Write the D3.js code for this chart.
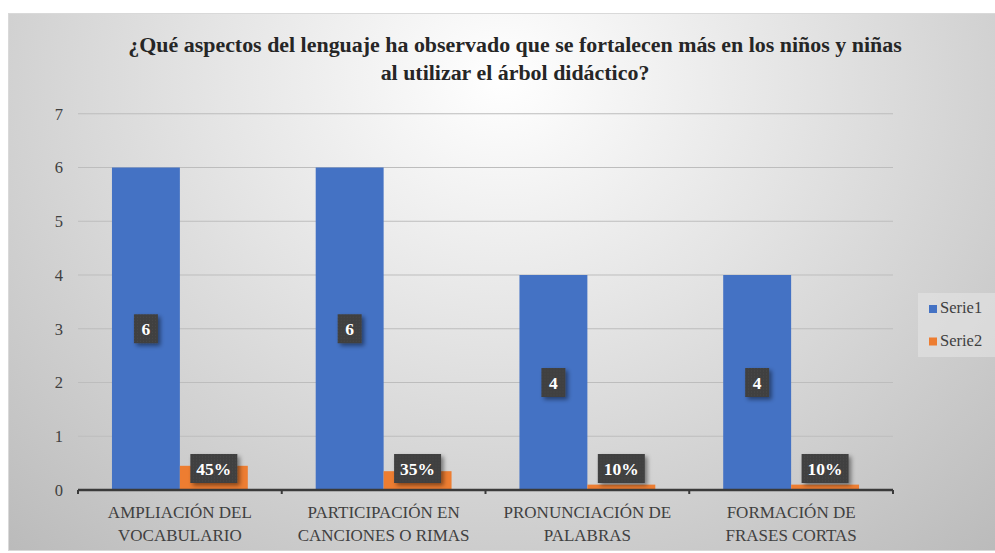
<!DOCTYPE html>
<html>
<head>
<meta charset="utf-8">
<script src="https://cdn.jsdelivr.net/npm/d3@7"></script>
<style>
  body { margin: 0; background: #fff; }
  svg { display: block; }
</style>
</head>
<body>
<svg></svg>
<script>
"use strict"

// chart data
let categories = [
  ["AMPLIACIÓN DEL", "VOCABULARIO"],
  ["PARTICIPACIÓN EN", "CANCIONES O RIMAS"],
  ["PRONUNCIACIÓN DE", "PALABRAS"],
  ["FORMACIÓN DE", "FRASES CORTAS"]
]
let serie1 = [6, 6, 4, 4]
let serie2 = [0.45, 0.35, 0.10, 0.10]
let seriesNames = ["Serie1", "Serie2"]
let yTicks = [0, 1, 2, 3, 4, 5, 6, 7]
let titleLines = [
  "¿Qué aspectos del lenguaje ha observado que se fortalecen más en los niños y niñas",
  "al utilizar el árbol didáctico?"
]

let width = 995, height = 553
let colors = ["#4472C4", "#ED7D31"]
let serif = "Liberation Serif"

let svg = d3.select("svg").attr("width", width).attr("height", height)
let defs = svg.append("defs")

/* background gradient */
let grad = defs.append("radialGradient").attr("id", "bg")
  .attr("cx", "50%").attr("cy", "12%").attr("r", "75%")
  .attr("gradientTransform", "translate(0.5,0.12) scale(1,1.6) translate(-0.5,-0.12)")
grad.append("stop").attr("offset", "0%").attr("stop-color", "#ffffff")
grad.append("stop").attr("offset", "40%").attr("stop-color", "#e4e4e4")
grad.append("stop").attr("offset", "100%").attr("stop-color", "#bababa")

/* dotted texture for the label boxes */
let pat = defs.append("pattern").attr("id", "dots")
  .attr("width", 3).attr("height", 3).attr("patternUnits", "userSpaceOnUse")
pat.append("rect").attr("width", 3).attr("height", 3).attr("fill", "#404040")
pat.append("rect").attr("width", 1).attr("height", 1).attr("fill", "#4a4a4a")

let shadow = defs.append("filter").attr("id", "shadow")
  .attr("x", "-30%").attr("y", "-30%").attr("width", "170%").attr("height", "170%")
shadow.append("feDropShadow").attr("dx", 2.5).attr("dy", 2.5).attr("stdDeviation", 2)
  .attr("flood-color", "#000").attr("flood-opacity", 0.45)

svg.append("rect")
  .attr("x", 8.5).attr("y", 13.5).attr("width", width - 8).attr("height", 537)
  .attr("fill", "url(#bg)").attr("stroke", "#d9d9d9").attr("stroke-width", 1)

/* title */
let title = svg.append("g").selectAll("text")
  .data(titleLines)
  .join("text")
  .attr("x", 515)
  .attr("y", (d, i) => 52 + i * 28)
  .attr("text-anchor", "middle")
  .attr("font-family", serif)
  .attr("font-weight", "bold")
  .attr("font-size", 20)
  .attr("fill", "#262626")
  .text(d => d)
// fit the first line to the width it has in the original
let tw = title.node().getComputedTextLength()
title.attr("font-size", Math.min(22, 20 * 774 / tw))

/* scales */
let margin = {left: 78, right: 102, top: 113.75, bottom: 63}
let x0 = d3.scaleBand()
  .domain(d3.range(categories.length))
  .range([margin.left, width - margin.right])
let y = d3.scaleLinear().domain([0, 7]).range([height - margin.bottom, margin.top])
let x1 = d3.scaleBand().domain([0, 1]).range([0, x0.bandwidth() / 3 * 2])

/* gridlines */
svg.append("g").selectAll("line")
  .data(yTicks.filter(d => d > 0))
  .join("line")
  .attr("x1", margin.left).attr("x2", width - margin.right)
  .attr("y1", d => y(d)).attr("y2", d => y(d))
  .attr("stroke", "#bdbdbd").attr("stroke-width", 1)

/* y axis labels */
let yAxis = svg.append("g")
  .attr("transform", "translate(" + (margin.left - 15) + ",0)")
  .call(d3.axisLeft(y).tickValues(yTicks).tickFormat(d3.format("d")).tickSize(0).tickPadding(0))
yAxis.select(".domain").remove()
yAxis.attr("font-family", serif)
yAxis.selectAll("text")
  .attr("font-family", serif).attr("font-size", 16.5).attr("fill", "#404040")

/* bars */
let barLeft = i => x0(i) + x0.bandwidth() / 6
let groups = svg.append("g").selectAll("g")
  .data(categories.map((c, i) => i))
  .join("g")
  .attr("transform", i => "translate(" + barLeft(i) + ",0)")

groups.selectAll("rect")
  .data(i => [serie1[i], serie2[i]])
  .join("rect")
  .attr("x", (d, j) => x1(j))
  .attr("width", x1.bandwidth())
  .attr("y", d => y(d))
  .attr("height", d => y(0) - y(d))
  .attr("fill", (d, j) => colors[j])

/* x axis line + ticks */
let axisY = y(0)
let xAxis = svg.append("g")
xAxis.append("line")
  .attr("x1", margin.left).attr("x2", width - margin.right)
  .attr("y1", axisY).attr("y2", axisY)
  .attr("stroke", "#3a3a3a").attr("stroke-width", 2.5)
xAxis.selectAll(".tk")
  .data(d3.range(categories.length + 1))
  .join("line").attr("class", "tk")
  .attr("x1", i => margin.left + i * x0.step()).attr("x2", i => margin.left + i * x0.step())
  .attr("y1", axisY).attr("y2", axisY + 4)
  .attr("stroke", "#3a3a3a").attr("stroke-width", 2)

/* category labels */
xAxis.selectAll(".cat")
  .data(categories)
  .join("text").attr("class", "cat")
  .attr("text-anchor", "middle")
  .attr("font-family", serif).attr("font-size", 17).attr("fill", "#404040")
  .each(function(d, i) {
    d3.select(this).selectAll("tspan")
      .data(d)
      .join("tspan")
      .attr("x", x0(i) + x0.bandwidth() / 2)
      .attr("y", (t, k) => 517.5 + k * 23)
      .text(t => t)
  })

/* data labels */
function addLabel(cx, cy, txt, w) {
  let g = svg.append("g").attr("transform", "translate(" + cx + "," + cy + ")")
  g.append("rect")
    .attr("x", -w / 2).attr("y", -14.5).attr("width", w).attr("height", 29)
    .attr("fill", "url(#dots)").attr("filter", "url(#shadow)")
  g.append("text")
    .attr("text-anchor", "middle").attr("y", 6)
    .attr("font-family", serif).attr("font-weight", "bold").attr("font-size", 17.5)
    .attr("fill", "#fff")
    .text(txt)
}
let pct = d3.format(".0%")
serie1.forEach((v, i) => {
  addLabel(barLeft(i) + x1(0) + x1.bandwidth() / 2, y(v / 2), v, 24)
})
serie2.forEach((v, i) => {
  let cy = Math.min(y(v) + 3, y(0) - 21.5)
  addLabel(barLeft(i) + x1(1) + x1.bandwidth() / 2, cy, pct(v), 47)
})

/* legend */
let legend = svg.append("g").attr("transform", "translate(918,293)")
legend.append("rect").attr("width", 77).attr("height", 64)
  .attr("fill", "#e4e4e4").attr("opacity", 0.6)
let li = legend.selectAll(".li")
  .data(seriesNames)
  .join("g").attr("class", "li")
  .attr("transform", (d, i) => "translate(11," + (12 + i * 32.5) + ")")
li.append("rect").attr("width", 8).attr("height", 8)
  .attr("fill", (d, i) => colors[i])
li.append("text").attr("x", 11).attr("y", 8)
  .attr("font-family", serif).attr("font-size", 16.5).attr("fill", "#404040")
  .text(d => d)
</script>
</body>
</html>
